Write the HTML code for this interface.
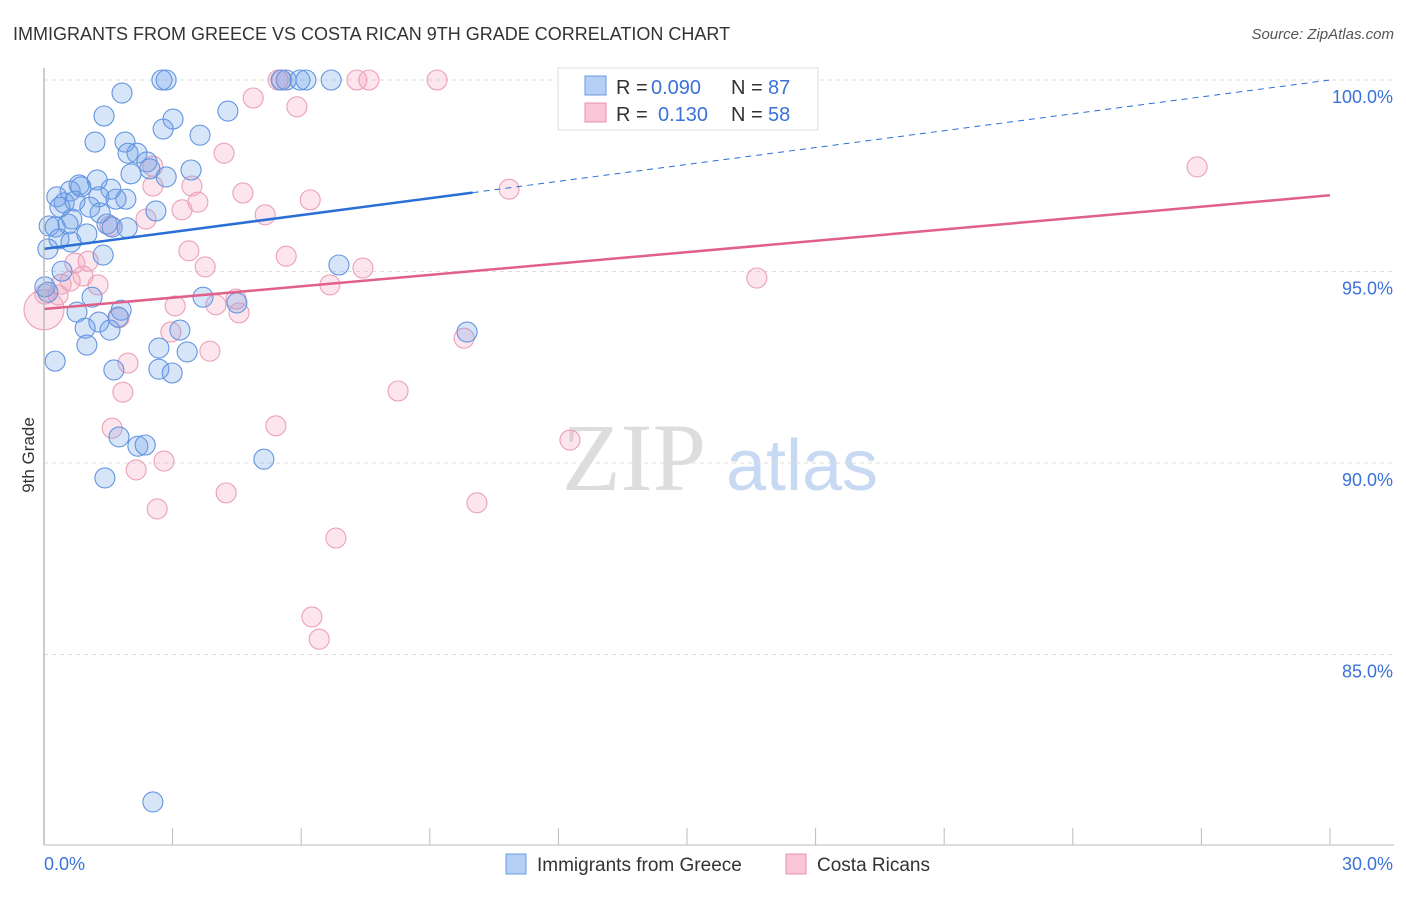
<!DOCTYPE html>
<html><head><meta charset="utf-8"><style>
body{margin:0;background:#fff;font-family:"Liberation Sans",sans-serif;}
</style></head><body>
<svg width="1406" height="892" xmlns="http://www.w3.org/2000/svg" id="svg" style="font-family:'Liberation Sans',sans-serif">
<text x="13" y="40" font-size="18" fill="#333">IMMIGRANTS FROM GREECE VS COSTA RICAN 9TH GRADE CORRELATION CHART</text>
<text x="1394" y="39" font-size="15" fill="#555" font-style="italic" text-anchor="end">Source: ZipAtlas.com</text>
<text transform="translate(34,455) rotate(-90)" font-size="17" fill="#333" text-anchor="middle">9th Grade</text>
<g>
<text x="634" y="490" font-size="96" fill="#ddd" font-family="Liberation Serif" text-anchor="middle">ZIP</text>
<text x="802" y="490" font-size="72" fill="#c8daf3" text-anchor="middle">atlas</text>
</g>
<g id="grid"></g><g id="pts"></g><g id="lines"></g>
<line x1="44" y1="68" x2="44" y2="845" stroke="#bbb" stroke-width="1.5"/>
<line x1="44" y1="845" x2="1394" y2="845" stroke="#bbb" stroke-width="1"/>
<g font-size="20">
<rect x="558" y="68" width="260" height="62" fill="#fff" stroke="#ddd"/>
<rect x="585" y="76" width="21" height="19" fill="#b5cff5" stroke="#6b9be0"/>
<rect x="585" y="103" width="21" height="19" fill="#f8c6d6" stroke="#e890ab"/>
<text x="616" y="94" fill="#333">R =</text>
<text x="651" y="94" fill="#3a72d8">0.090</text>
<text x="731" y="94" fill="#333">N =</text>
<text x="768" y="94" fill="#3a72d8">87</text>
<text x="616" y="121" fill="#333">R =</text>
<text x="658" y="121" fill="#3a72d8">0.130</text>
<text x="731" y="121" fill="#333">N =</text>
<text x="768" y="121" fill="#3a72d8">58</text>
</g>
<g>
<rect x="506" y="854" width="20" height="20" fill="#b5cff5" stroke="#6b9be0"/>
<text x="537" y="871" font-size="19" fill="#333">Immigrants from Greece</text>
<rect x="786" y="854" width="20" height="20" fill="#f8c6d6" stroke="#e890ab"/>
<text x="817" y="871" font-size="19" fill="#333">Costa Ricans</text>
</g>
</svg>
<script>
const yTicks=[100,95,90,85];
const yTickLabels=["100.0%","95.0%","90.0%","85.0%"];
const xTicks=[0,3,6,9,12,15,18,21,24,27,30];
const xLabels=["0.0%","30.0%"];
const bluePx=[[162,80],[166,80],[281,80],[286,80],[300,80],[306,80],[331,80],[122,93],[104,116],[228,111],[173,119],[163,129],[200,135],[95,142],[125,142],[128,153],[137,153],[147,162],[191,170],[150,169],[131,174],[166,177],[97,180],[79,185],[81,187],[111,189],[70,191],[57,197],[99,197],[126,199],[116,199],[64,203],[75,201],[90,207],[100,213],[156,211],[60,207],[72,219],[49,226],[55,227],[68,224],[107,224],[112,227],[127,228],[87,234],[59,239],[71,242],[48,249],[103,255],[62,271],[339,265],[45,287],[48,292],[92,297],[203,297],[237,303],[77,312],[121,310],[99,322],[85,328],[110,330],[180,330],[118,317],[87,345],[159,348],[187,352],[55,361],[114,370],[159,369],[172,373],[467,332],[119,437],[138,446],[145,445],[105,478],[264,459],[153,802]];
const pinkPx=[[278,80],[282,80],[357,80],[369,80],[437,80],[253,98],[297,107],[224,153],[1197,167],[153,166],[192,186],[153,186],[509,189],[243,193],[182,210],[198,202],[310,200],[265,215],[146,219],[110,226],[189,251],[286,256],[205,267],[75,263],[88,261],[363,268],[83,276],[70,281],[98,285],[61,284],[757,278],[330,285],[58,295],[236,299],[216,305],[175,306],[239,313],[119,318],[171,332],[464,338],[210,351],[128,363],[123,392],[398,391],[276,426],[112,428],[570,440],[164,461],[136,470],[226,493],[477,503],[157,509],[336,538],[312,617],[319,639],[45,294]];
const blueX=bluePx.map(p=>+((p[0]-44)/1286*30).toFixed(2));
const blueY=bluePx.map(p=>+(100-(p[1]-80)/191.5*5).toFixed(2));
const pinkX=pinkPx.map(p=>+((p[0]-44)/1286*30).toFixed(2));
const pinkY=pinkPx.map(p=>+(100-(p[1]-80)/191.5*5).toFixed(2));
const blueLine=[95.59,100.0];
const pinkLine=[94.02,96.99];
const blueSolidEnd=10;
const NS="http://www.w3.org/2000/svg";
const sx=v=>44+v/30*1286, sy=v=>80+(100-v)/5*191.5;
function mk(t,a,p){const e=document.createElementNS(NS,t);for(const k in a)e.setAttribute(k,a[k]);p.appendChild(e);return e;}
const grid=document.getElementById('grid');
yTicks.forEach((t,i)=>{
 const l=mk('line',{x1:44,x2:1394,y1:sy(t),y2:sy(t),stroke:'#ddd','stroke-dasharray':'4,4'},grid);
 
 
 const tx=mk('text',{x:1393,y:sy(t)+23,'font-size':18,fill:'#3a72d8','text-anchor':'end'},grid);
 tx.textContent=yTickLabels[i];
 
 
});
xTicks.forEach(t=>{
 const l=mk('line',{x1:sx(t),x2:sx(t),y1:828,y2:845,stroke:'#bbb'},grid);
 
 
});
const xl0=mk('text',{x:44,y:870,'font-size':18,fill:'#3a72d8'},grid);xl0.textContent=xLabels[0];


const xl1=mk('text',{x:1393,y:870,'font-size':18,fill:'#3a72d8','text-anchor':'end'},grid);xl1.textContent=xLabels[1];


const pts=document.getElementById('pts');
pinkX.forEach((x,i)=>{
 const c=mk('circle',{cx:sx(x),cy:sy(pinkY[i]),r:10,fill:'rgba(244,160,188,0.28)',stroke:'#eba0b8','stroke-width':1.1},pts);
 
 
});
const big=mk('circle',{cx:sx(0),cy:sy(94.0),r:20,fill:'rgba(244,160,188,0.28)',stroke:'#eba0b8','stroke-width':1.1},pts);


blueX.forEach((x,i)=>{
 const c=mk('circle',{cx:sx(x),cy:sy(blueY[i]),r:10,fill:'rgba(110,160,235,0.28)',stroke:'#6395e0','stroke-width':1.1},pts);
 
 
});
const lines=document.getElementById('lines');
const by=x=>blueLine[0]+(blueLine[1]-blueLine[0])*x/30;
const bl=mk('line',{x1:sx(0),y1:sy(by(0)),x2:sx(blueSolidEnd),y2:sy(by(blueSolidEnd)),stroke:'#2a6fd6','stroke-width':2.5},lines);


const bd=mk('line',{x1:sx(blueSolidEnd),y1:sy(by(blueSolidEnd)),x2:sx(30),y2:sy(by(30)),stroke:'#2a6fd6','stroke-width':1,'stroke-dasharray':'6,5'},lines);


const pl=mk('line',{x1:sx(0),y1:sy(pinkLine[0]),x2:sx(30),y2:sy(pinkLine[1]),stroke:'#e0608a','stroke-width':2.5},lines);


</script>
</body></html>
